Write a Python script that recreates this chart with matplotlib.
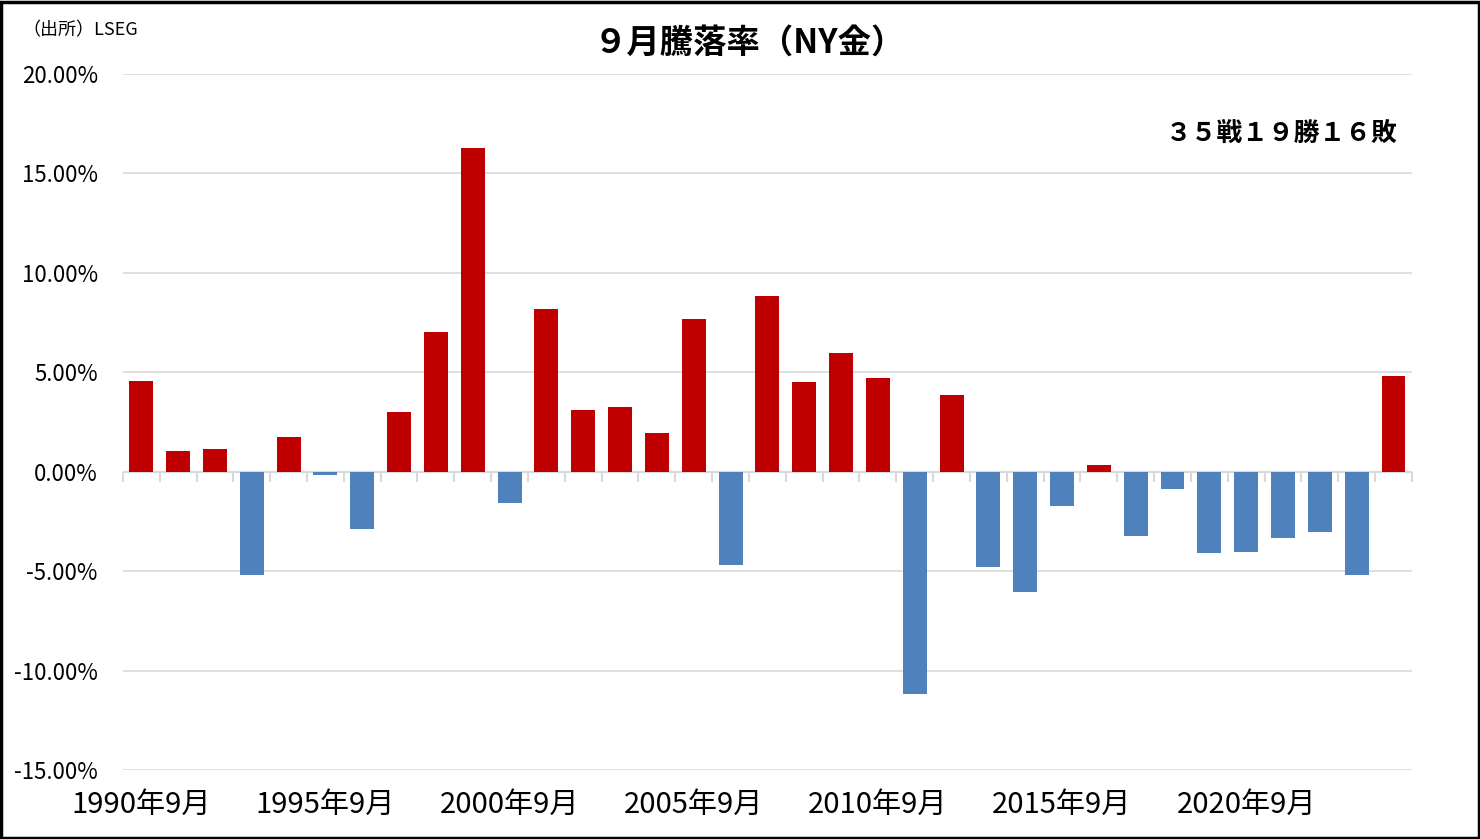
import matplotlib
matplotlib.use("Agg")
import matplotlib.pyplot as plt
import matplotlib.ticker as mticker

plt.rcParams['font.family'] = ['Noto Sans CJK JP', 'DejaVu Sans']

# September returns of NY gold, 1990-2024 (%)
years = list(range(1990, 2025))
returns = [4.58, 1.06, 1.16, -5.18, 1.76, -0.15, -2.87, 3.02, 7.05, 16.30,
           -1.56, 8.20, 3.12, 3.27, 1.96, 7.70, -4.68, 8.86, 4.53, 5.99,
           4.73, -11.17, 3.88, -4.78, -6.04, -1.71, 0.35, -3.22, -0.86, -4.08,
           -4.03, -3.32, -3.02, -5.18, 4.83]
label_years = [1990, 1995, 2000, 2005, 2010, 2015, 2020]

title = "９月騰落率（NY金）"
record = "３５戦１９勝１６敗"
source = "（出所）LSEG"

up_color = '#C00000'
down_color = '#4F81BD'

fig = plt.figure(figsize=(14.8, 8.39), dpi=100)
ax = fig.add_axes([0.083, 0.0822, 0.871, 0.8296])

x = list(range(len(years)))
colors = [up_color if v >= 0 else down_color for v in returns]
ax.bar(x, returns, width=0.65, color=colors, zorder=3)

ax.set_xlim(-0.5, len(years) - 0.5)
ax.set_ylim(-15, 20)
ax.yaxis.set_major_locator(mticker.MultipleLocator(5))
ax.yaxis.set_major_formatter(mticker.FuncFormatter(lambda v, p: f'{v:.2f}%'))
ax.grid(axis='y', color='#D9D9D9', linewidth=1.2, zorder=0)
for s in ax.spines.values():
    s.set_visible(False)
ax.tick_params(axis='y', length=0, labelsize=16, pad=18)

# category labels at the bottom
ax.set_xticks([years.index(y) for y in label_years])
ax.set_xticklabels([f'{y}年9月' for y in label_years])
ax.tick_params(axis='x', length=0, labelsize=21, pad=14)

# zero axis line with category tick marks
ax.axhline(0, color='#D9D9D9', linewidth=1.5, zorder=2)
lo, hi = ax.get_ylim()
sec = ax.secondary_xaxis((0 - lo) / (hi - lo))
sec.set_xticks([i - 0.5 for i in range(len(years) + 1)])
sec.set_xticklabels([])
sec.tick_params(axis='x', length=7, width=1.5, color='#D9D9D9', direction='out')
sec.spines['bottom'].set_visible(False)

fig.text(0.506, 0.949, title, ha='center', va='center', fontsize=24, fontweight='bold')
fig.text(0.866, 0.841, record, ha='center', va='center', fontsize=18.5, fontweight='bold')
fig.text(0.015, 0.964, source, ha='left', va='center', fontsize=13)

# outer frame
fig.patches.append(plt.Rectangle((0.001, 0.001), 0.998, 0.997, transform=fig.transFigure,
                                 fill=False, edgecolor='black', linewidth=2.5))

fig.savefig('out.png', dpi=100)
